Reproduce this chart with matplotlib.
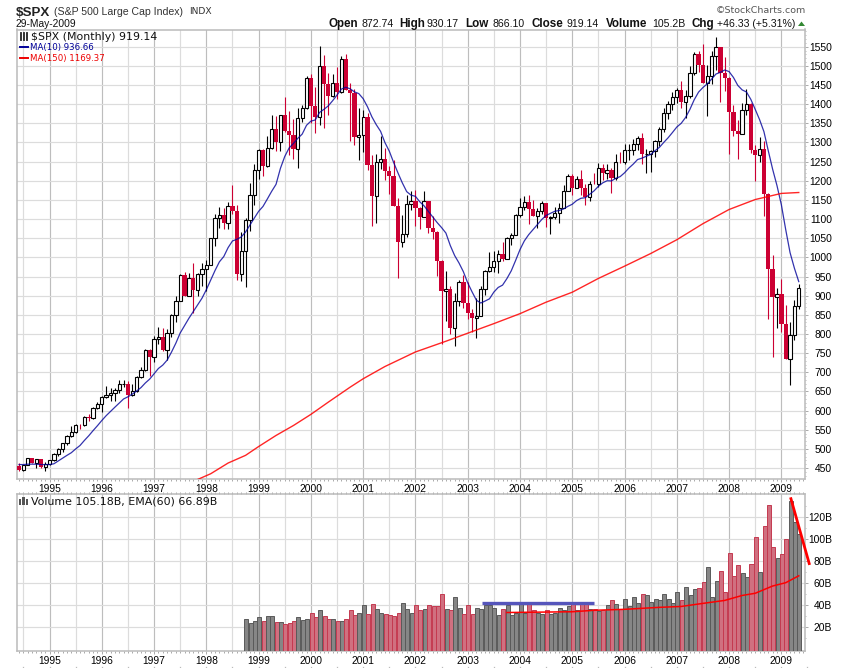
import matplotlib
matplotlib.use('Agg')
import matplotlib.pyplot as plt
from matplotlib.lines import Line2D
from matplotlib.patches import Rectangle, Polygon

W, H = 850, 668
SANS = 'Liberation Sans'

# months are counted from Jan 1995 = 0, first candle is Jun 1994
first_month = -7
year_labels = ['1995', '1996', '1997', '1998', '1999', '2000', '2001', '2002',
               '2003', '2004', '2005', '2006', '2007', '2008', '2009']

opens = [
    456.5, 444.3, 458.3, 475.5, 462.7, 472.4, 453.7,
    459.3, 470.4, 487.4, 500.7, 514.7, 533.4, 544.8, 562.1, 561.9, 584.4, 581.5, 605.4,
    615.9, 636.0, 640.4, 645.5, 654.2, 669.1, 670.6, 639.9, 651.9, 687.3, 705.3, 757.0,
    740.7, 786.2, 790.8, 757.1, 801.3, 848.3, 885.1, 954.3, 899.5, 947.3, 914.6, 955.4,
    970.4, 980.3, 1049.3, 1101.8, 1111.8, 1090.8, 1133.8, 1120.7, 957.3, 1017.0, 1098.7, 1163.6,
    1229.2, 1279.6, 1238.3, 1286.4, 1335.2, 1301.8, 1372.7, 1328.7, 1320.4, 1282.7, 1362.9, 1388.9,
    1469.3, 1394.5, 1366.4, 1498.6, 1452.4, 1420.6, 1454.6, 1430.8, 1517.7, 1436.5, 1429.4, 1314.9,
    1320.3, 1366.0, 1239.9, 1160.3, 1249.5, 1255.8, 1224.4, 1211.2, 1133.6, 1040.9, 1059.8, 1139.5,
    1148.1, 1130.2, 1106.7, 1147.4, 1076.9, 1067.1, 989.8, 911.6, 916.1, 815.3, 885.8, 936.3,
    879.8, 855.7, 841.2, 848.2, 916.9, 963.6, 974.5, 990.3, 1008.0, 996.0, 1050.7, 1058.2,
    1111.9, 1131.1, 1144.9, 1126.2, 1107.3, 1120.7, 1140.8, 1101.7, 1104.2, 1114.6, 1130.2, 1173.8,
    1211.9, 1181.3, 1203.6, 1180.6, 1156.9, 1191.5, 1191.3, 1234.2, 1220.3, 1228.8, 1207.0, 1249.5,
    1248.3, 1280.1, 1280.7, 1294.9, 1310.6, 1270.1, 1270.2, 1276.7, 1303.8, 1335.8, 1377.9, 1400.6,
    1418.3, 1438.2, 1406.8, 1420.9, 1482.4, 1530.6, 1503.4, 1455.3, 1473.9, 1526.8, 1549.4, 1481.1,
    1468.4, 1378.6, 1330.6, 1322.7, 1385.6, 1400.4, 1280.0, 1267.4, 1282.8, 1166.4, 968.8, 896.2,
    903.3, 825.9, 735.0, 797.9, 872.74,
]
highs = [
    462, 459, 477, 476, 473, 474, 466,
    471, 489, 503, 515, 535, 559, 564, 565, 587, 590, 608, 622,
    637, 665, 660, 659, 680, 680, 676, 670, 690, 714, 762, 761,
    794, 818, 815, 812, 852, 898, 957, 962, 960, 985, 960, 986,
    992, 1051, 1113, 1132, 1130, 1145, 1190, 1138, 1066, 1103, 1193, 1245,
    1283, 1282, 1317, 1372, 1368, 1373, 1420, 1382, 1360, 1389, 1397, 1473,
    1479, 1445, 1553, 1528, 1481, 1478, 1497, 1525, 1530, 1454, 1439, 1390,
    1384, 1376, 1268, 1269, 1316, 1286, 1239, 1255, 1155, 1110, 1163, 1173,
    1176, 1131, 1173, 1147, 1107, 1068, 994, 965, 925, 907, 941, 954,
    935, 864, 895, 924, 966, 1015, 1016, 1019, 1040, 1053, 1063, 1112,
    1155, 1159, 1163, 1150, 1128, 1147, 1141, 1109, 1132, 1143, 1188, 1217,
    1217, 1212, 1229, 1192, 1199, 1219, 1246, 1245, 1243, 1233, 1270, 1275,
    1295, 1297, 1310, 1318, 1326, 1284, 1280, 1307, 1340, 1390, 1407, 1432,
    1441, 1461, 1438, 1499, 1535, 1540, 1556, 1503, 1539, 1576, 1550, 1524,
    1471, 1397, 1359, 1404, 1440, 1404, 1293, 1313, 1303, 1167, 1007, 919,
    944, 876, 832, 888, 930.17,
]
lows = [
    443, 443, 457, 462, 449, 449, 443,
    457, 469, 481, 492, 510, 532, 542, 553, 560, 572, 579, 605,
    597, 633, 626, 624, 645, 662, 606, 639, 649, 684, 702, 691,
    727, 773, 756, 733, 793, 832, 885, 900, 899, 855, 900, 925,
    912, 980, 1030, 1077, 1074, 1074, 1114, 940, 939, 923, 1070, 1137,
    1205, 1212, 1237, 1282, 1277, 1277, 1328, 1268, 1256, 1233, 1354, 1387,
    1350, 1325, 1346, 1339, 1373, 1419, 1413, 1430, 1436, 1305, 1294, 1254,
    1275, 1228, 1081, 1091, 1232, 1203, 1165, 1133, 945, 1026, 1054, 1124,
    1081, 1074, 1106, 1063, 1048, 952, 775, 833, 800, 768, 872, 869,
    840, 806, 789, 847, 902, 963, 962, 960, 990, 996, 1031, 1058,
    1105, 1124, 1087, 1107, 1076, 1113, 1079, 1060, 1099, 1090, 1128, 1173,
    1163, 1180, 1163, 1136, 1146, 1191, 1183, 1201, 1205, 1168, 1202, 1246,
    1245, 1253, 1268, 1280, 1245, 1219, 1224, 1262, 1290, 1327, 1360, 1385,
    1403, 1389, 1364, 1416, 1476, 1484, 1455, 1370, 1452, 1489, 1406, 1435,
    1270, 1317, 1257, 1324, 1373, 1272, 1200, 1248, 1107, 839, 741, 815,
    805, 735, 667, 783, 866.10,
]
closes = [
    444.3, 458.3, 475.5, 462.7, 472.4, 453.7, 459.3,
    470.4, 487.4, 500.7, 514.7, 533.4, 544.8, 562.1, 561.9, 584.4, 581.5, 605.4, 615.9,
    636.0, 640.4, 645.5, 654.2, 669.1, 670.6, 639.9, 651.9, 687.3, 705.3, 757.0, 740.7,
    786.2, 790.8, 757.1, 801.3, 848.3, 885.1, 954.3, 899.5, 947.3, 914.6, 955.4, 970.4,
    980.3, 1049.3, 1101.8, 1111.8, 1090.8, 1133.8, 1120.7, 957.3, 1017.0, 1098.7, 1163.6, 1229.2,
    1279.6, 1238.3, 1286.4, 1335.2, 1301.8, 1372.7, 1328.7, 1320.4, 1282.7, 1362.9, 1388.9, 1469.3,
    1394.5, 1366.4, 1498.6, 1452.4, 1420.6, 1454.6, 1430.8, 1517.7, 1436.5, 1429.4, 1314.9, 1320.3,
    1366.0, 1239.9, 1160.3, 1249.5, 1255.8, 1224.4, 1211.2, 1133.6, 1040.9, 1059.8, 1139.5, 1148.1,
    1130.2, 1106.7, 1147.4, 1076.9, 1067.1, 989.8, 911.6, 916.1, 815.3, 885.8, 936.3, 879.8,
    855.7, 841.2, 848.2, 916.9, 963.6, 974.5, 990.3, 1008.0, 996.0, 1050.7, 1058.2, 1111.9,
    1131.1, 1144.9, 1126.2, 1107.3, 1120.7, 1140.8, 1101.7, 1104.2, 1114.6, 1130.2, 1173.8, 1211.9,
    1181.3, 1203.6, 1180.6, 1156.9, 1191.5, 1191.3, 1234.2, 1220.3, 1228.8, 1207.0, 1249.5, 1248.3,
    1280.1, 1280.7, 1294.9, 1310.6, 1270.1, 1270.2, 1276.7, 1303.8, 1335.8, 1377.9, 1400.6, 1418.3,
    1438.2, 1406.8, 1420.9, 1482.4, 1530.6, 1503.4, 1455.3, 1473.9, 1526.8, 1549.4, 1481.1, 1468.4,
    1378.6, 1330.6, 1322.7, 1385.6, 1400.4, 1280.0, 1267.4, 1282.8, 1166.4, 968.8, 896.2, 903.3,
    825.9, 735.1, 797.9, 872.8, 919.14,
]
ma10 = [
    459, 459, 460, 460, 460, 459, 459,
    459, 461, 468.4, 475.5, 483.0, 489.9, 499.8, 508.8, 521.9, 534.1, 547.6, 560.4,
    574.0, 586.6, 597.8, 608.7, 619.4, 630.3, 635.9, 642.9, 651.1, 660.0, 672.1, 682.2,
    696.2, 709.9, 718.7, 731.7, 752.6, 775.9, 802.6, 822.0, 841.0, 858.4, 875.4, 893.3,
    915.6, 940.4, 965.8, 988.4, 1002.1, 1025.5, 1042.9, 1047.1, 1053.3, 1066.1, 1084.4, 1102.4,
    1120.2, 1132.9, 1152.4, 1172.5, 1190.7, 1232.2, 1263.4, 1285.6, 1297.5, 1310.9, 1321.8, 1344.9,
    1355.7, 1358.8, 1378.5, 1386.5, 1395.7, 1409.1, 1423.9, 1439.4, 1444.2, 1440.2, 1432.2, 1427.6,
    1414.4, 1393.1, 1367.1, 1346.6, 1329.1, 1299.8, 1277.3, 1247.7, 1220.3, 1194.3, 1171.6, 1162.4,
    1159.4, 1145.1, 1134.3, 1119.5, 1105.1, 1090.7, 1077.8, 1063.4, 1031.0, 1004.8, 985.4, 962.7,
    933.5, 910.0, 888.1, 880.8, 886.0, 891.8, 909.3, 921.5, 927.5, 944.6, 964.9, 992.0,
    1020.2, 1043.0, 1059.3, 1072.6, 1085.6, 1098.9, 1109.5, 1114.8, 1120.4, 1122.3, 1126.5, 1133.2,
    1138.7, 1148.3, 1154.3, 1155.9, 1164.9, 1173.6, 1185.6, 1194.6, 1200.1, 1199.6, 1206.4, 1210.9,
    1220.8, 1233.2, 1243.5, 1255.5, 1259.1, 1264.1, 1268.9, 1278.5, 1287.2, 1300.1, 1312.2, 1326.0,
    1340.3, 1349.9, 1365.0, 1386.2, 1411.6, 1431.6, 1443.5, 1453.1, 1465.7, 1478.8, 1483.1, 1489.3,
    1485.1, 1469.9, 1449.1, 1437.3, 1431.8, 1412.4, 1386.5, 1359.8, 1328.4, 1278.4, 1230.2, 1187.4,
    1137.7, 1072.7, 1012.4, 971.7, 936.66,
]

ma150_months = [34, 37, 41, 45, 48, 52, 56, 60, 64, 69, 72, 77, 84, 91, 96, 102, 108, 114, 120,
                126, 132, 138, 144, 150, 156, 162, 168, 172]
ma150 = [420, 435, 463, 483, 506, 535, 561, 590, 622, 661, 683, 715, 753, 781, 802, 827, 853, 883,
         909, 945, 977, 1010, 1046, 1088, 1125, 1151, 1167, 1169.37]

# volume in billions, one bar a month from Oct 1998
vol_first_month = 45
volumes = [
    28, 24, 26,
    29, 26, 30, 30, 24.5, 24.5, 23, 24, 25.5, 29, 27, 28,
    33, 29, 36, 30, 28, 28, 26, 26, 28, 36, 31, 33.5,
    40, 32, 41, 37, 33, 32, 31, 30, 33, 42, 37, 33.5,
    40, 36, 37, 40, 39, 39, 50, 37, 35.5, 48, 38, 32,
    40, 32, 38, 37, 40, 40, 38, 31, 37, 40, 31, 33,
    41, 33, 41, 36, 33.5, 32, 35.5, 32, 33.5, 38, 36, 39,
    41, 35.5, 41, 41, 37, 37, 34.5, 36, 40, 44.5, 41, 37,
    46, 39, 48, 42, 50, 49, 43.5, 45.5, 44.5, 50, 46, 42,
    52, 44.5, 56.5, 49, 54.5, 55.5, 61, 74.5, 48, 62, 71, 52,
    88, 67, 76.5, 69, 65.5, 78, 102, 70, 112, 131, 93, 83,
    87, 100, 134.5, 115.5, 105.18,
]
# r = red bar, g = grey bar, one string per year
vol_colors = list(
    'ggg'
    'grggrgrrrggg'
    'rrgrrgrgrrrg'
    'grrggrrrrggg'
    'rrgrrrrgrggr'
    'rrggggggrggg'
    'ggrrggrggggg'
    'rgrrgrgrgrgr'
    'ggggrggggggg'
    'grgggrrgggrr'
    'rrrggrrgrrrg'
    'rrggg'
)

ema60_months = [105, 120, 125, 132, 136, 140, 145, 150, 155, 159, 162, 166, 169, 172]
ema60 = [33.5, 34.2, 35.5, 36.4, 37.3, 38.2, 39, 41.8, 44.5, 49, 51, 57.6, 60.6, 66.89]

price_ticks = list(range(450, 1551, 50))
volume_ticks = [20, 40, 60, 80, 100, 120]


def px_x(x):
    return x / W


def px_y(y):
    return 1 - y / H


def label(x, y, s, **kw):
    kw.setdefault('family', SANS)
    kw.setdefault('va', 'center')
    fig.text(px_x(x), px_y(y), s, **kw)


fig = plt.figure(figsize=(W / 100, H / 100), dpi=100, facecolor='white')
ax = fig.add_axes([px_x(16.5), px_y(479.3), px_x(805.3 - 16.5), (479.3 - 29.5) / H])
ax2 = fig.add_axes([px_x(16.5), px_y(651), px_x(805.3 - 16.5), (651 - 494.3) / H])

months = list(range(first_month, first_month + len(closes)))
year_months = [12 * i for i in range(len(year_labels))]
half_months = [12 * i - 6 for i in range(len(year_labels) + 1)]

for a in (ax, ax2):
    a.set_xlim(-7.58, 173.5)
    a.set_xticks(year_months)
    a.set_xticklabels(year_labels, family=SANS, fontsize=7.4)
    a.set_xticks(months + [173], minor=True)
    a.tick_params(axis='x', which='major', length=2, width=0.7, color='#aaaaaa', pad=1.5)
    a.tick_params(axis='x', which='minor', length=1.5, width=0.7, color='#aaaaaa')
    a.yaxis.tick_right()
    a.set_axisbelow(True)
    a.xaxis.grid(True, which='major', color='#bdbdbd', lw=0.85)
    a.yaxis.grid(True, color='#dcdcdc', lw=0.85)
    for m in half_months:
        a.axvline(m, color='#dcdcdc', lw=0.85, zorder=0.5)
    for sp in a.spines.values():
        sp.set_color('#bbbbbb')
        sp.set_linewidth(1.1)
ax2.tick_params(axis='x', which='minor', top=True, length=1.2)

# the row of little marks under the bottom date labels
ax2.plot(sorted(year_months + half_months), [-0.102] * (len(year_months) + len(half_months)),
         ls='none', marker='s', ms=0.9, color='#bbbbbb', mew=0,
         transform=ax2.get_xaxis_transform(), clip_on=False)

# candles
for m, o, h, l, c in zip(months, opens, highs, lows, closes):
    up = c >= o
    col = 'black' if up else '#cc0033'
    ax.vlines(m, l, h, color=col, lw=0.8, zorder=2)
    if up:
        ax.bar(m, c - o, bottom=o, width=0.76, facecolor='white', edgecolor='black',
               linewidth=0.8, zorder=3)
    else:
        ax.bar(m, o - c, bottom=c, width=1.0, facecolor=col, edgecolor='none', zorder=3)

ax.plot(months, ma10, color='#000099', lw=0.9, alpha=0.8, zorder=4)
ax.plot(ma150_months, ma150, color='#ff0000', lw=1.0, alpha=0.85, zorder=4)

ax.set_ylim(420.5, 1595)
ax.set_yticks(price_ticks)
ax.set_yticks(list(range(430, 1591, 10)), minor=True)
ax.tick_params(axis='y', which='major', length=2, width=0.7, color='#aaaaaa', pad=17.2)
ax.tick_params(axis='y', which='minor', length=1, width=0.6, color='#aaaaaa')
for t in ax.get_yticklabels():
    t.set_family(SANS)
    t.set_fontsize(7.4)
    t.set_ha('right')

# volume panel
vol_months = list(range(vol_first_month, vol_first_month + len(volumes)))
for m, v, k in zip(vol_months, volumes, vol_colors):
    face, edge = ('#868686', '#5a5a5a') if k == 'g' else ('#d07080', '#c43a50')
    ax2.bar(m + 0.15, v + 1.5, bottom=-1.5, width=0.92, facecolor=face, edgecolor=edge,
            linewidth=0.7, zorder=3)
ax2.plot(ema60_months, ema60, color='#ff0000', lw=1.1, zorder=4)

# hand drawn marks on the volume panel
ax2.plot([99.2, 125], [41.8, 41.8], color='#5555bb', lw=2.4, solid_capstyle='butt', zorder=5)
ax2.plot([170.2, 174.4], [137, 78], color='#ff0000', lw=2.0, zorder=5, clip_on=False)

ax2.set_ylim(-1.5, 141)
ax2.set_yticks(volume_ticks)
ax2.set_yticklabels([f'{v}B' for v in volume_ticks])
ax2.set_yticks(list(range(10, 140, 10)), minor=True)
ax2.tick_params(axis='y', which='major', length=2, width=0.7, color='#aaaaaa', pad=17.2)
ax2.tick_params(axis='y', which='minor', length=1, width=0.6, color='#aaaaaa')
for t in ax2.get_yticklabels():
    t.set_family(SANS)
    t.set_fontsize(7.4)
    t.set_ha('right')

# header
label(16, 15.5, '$SPX', fontsize=9.6, fontweight='bold', color='#222222', va='baseline')
label(53.5, 15, '(S&P 500 Large Cap Index)', fontsize=7.6, color='#333333', va='baseline')
label(189.5, 11, 'INDX', fontsize=6.6, color='#333333', family='DejaVu Sans')
label(16, 27, '29-May-2009', fontsize=7.4, color='#111111', va='baseline')
label(715.5, 10.5, '\u00a9StockCharts.com', fontsize=6.8, color='#555555', family='DejaVu Sans')

header = [
    (328.7, 'Open', True), (361, '872.74', False),
    (399.7, 'High', True), (426.7, '930.17', False),
    (465.7, 'Low', True), (492.7, '866.10', False),
    (531.7, 'Close', True), (566.7, '919.14', False),
    (606, 'Volume', True), (652.7, '105.2B', False),
    (691.7, 'Chg', True), (717, '+46.33 (+5.31%)', False),
]
for x, s, bold in header:
    label(x, 27, s, fontsize=8.4 if bold else 7.6, fontweight='bold' if bold else 'normal',
          color='#111111', va='baseline')
fig.add_artist(Polygon([(px_x(798), px_y(26)), (px_x(805), px_y(26)), (px_x(801.5), px_y(21.5))],
                       closed=True, facecolor='#338833', edgecolor='none',
                       transform=fig.transFigure))

# legends
LEG = 'DejaVu Sans'
label(31.5, 36.5, '$SPX (Monthly) 919.14', fontsize=7.9, family=LEG, color='#111111')
label(29.5, 47.5, 'MA(10) 936.66', fontsize=6.2, family=LEG, color='#000099')
label(29.5, 58.5, 'MA(150) 1169.37', fontsize=6.2, family=LEG, color='#ee0000')
fig.add_artist(Line2D([px_x(19.5), px_x(28)], [px_y(47.3)] * 2, color='#000099', lw=1.4,
                      transform=fig.transFigure))
fig.add_artist(Line2D([px_x(19.5), px_x(28)], [px_y(58.3)] * 2, color='#ee0000', lw=1.4,
                      transform=fig.transFigure))
for x in (20.5, 23.5, 26.5):
    fig.add_artist(Line2D([px_x(x), px_x(x)], [px_y(33), px_y(40)], color='#222222', lw=1.3,
                          transform=fig.transFigure))
label(31.5, 501.5, 'Volume 105.18B, EMA(60) 66.89B', fontsize=7.9, family=LEG, color='#111111')
for x, top in ((20, 499), (23.5, 497), (27, 498.5)):
    fig.add_artist(Rectangle((px_x(x - 1.3), px_y(505)), 2.6 / W, (505 - top) / H,
                             facecolor='#555555', edgecolor='none', transform=fig.transFigure))

fig.savefig('out.png', dpi=100)
